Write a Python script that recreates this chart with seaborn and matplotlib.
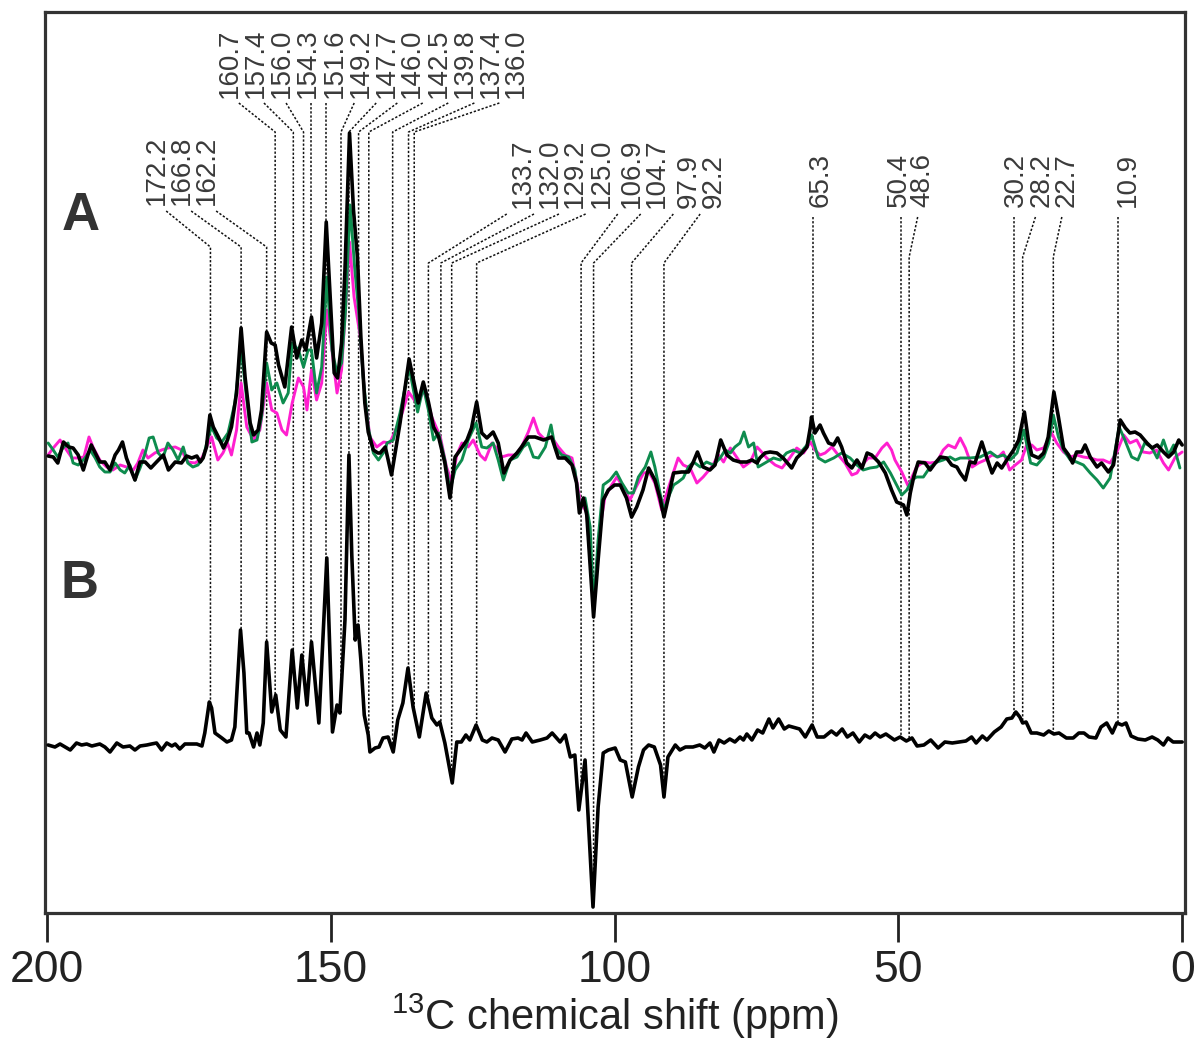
import numpy as np
import matplotlib
matplotlib.use("Agg")
import matplotlib.pyplot as plt
import seaborn as sns

## spectrum B (bottom trace, black), ppm / intensity (arb. units)
b_ppm = [199.8, 198.6, 197.7, 196.8, 195.9, 194.8, 193.9, 193.0, 192.1, 190.7, 189.8, 188.9, 187.7, 186.6,
         185.4, 184.5, 183.6, 182.4, 181.6, 180.7, 179.8, 178.9, 178.0, 177.4, 176.6, 175.7, 174.5, 173.6,
         172.7, 172.2, 171.4, 171.0, 170.4, 169.2, 168.3, 167.5, 166.9, 165.9, 165.3, 164.8, 164.4, 163.6,
         163.0, 162.5, 161.9, 161.3, 160.4, 159.7, 158.9, 157.9, 156.8, 155.9, 155.1, 154.2, 153.4, 152.1,
         150.7, 149.7, 148.9, 148.4, 147.5, 146.8, 146.3, 145.7, 145.2, 144.7, 144.1, 143.4, 143.1, 142.2,
         141.5, 140.8, 139.9, 139.0, 138.2, 137.3, 136.4, 135.5, 134.4, 133.2, 132.2, 131.3, 130.8, 129.9,
         128.6, 127.8, 127.0, 126.2, 125.5, 124.4, 123.3, 122.5, 121.6, 120.5, 119.3, 118.1, 117.0, 116.3,
         115.6, 114.5, 113.1, 111.9, 111.0, 109.6, 108.7, 107.8, 107.0, 106.3, 105.2, 103.8, 102.9, 102.0,
         101.1, 99.9, 99.0, 98.1, 96.9, 95.8, 94.9, 94.0, 93.0, 91.9, 91.3, 90.6, 89.3, 88.5, 87.5, 86.2,
         85.0, 84.1, 83.2, 82.5, 81.6, 80.7, 79.7, 78.8, 77.9, 77.3, 76.7, 75.8, 74.8, 73.9, 72.8, 72.1,
         71.1, 70.1, 69.3, 67.4, 66.4, 65.2, 64.3, 63.1, 61.8, 60.9, 59.9, 59.0, 58.0, 56.9, 55.9, 55.0,
         54.1, 53.2, 52.2, 50.7, 49.7, 48.6, 47.6, 46.7, 45.5, 44.3, 43.0, 41.8, 40.5, 39.3, 38.1, 37.1,
         36.3, 35.2, 34.4, 33.1, 31.9, 30.9, 30.0, 29.3, 28.6, 28.1, 27.5, 26.6, 25.6, 24.4, 23.5, 22.6,
         21.7, 20.4, 19.2, 18.2, 17.3, 16.4, 15.2, 14.3, 13.3, 12.3, 11.5, 10.6, 9.9, 9.0, 7.8, 6.5, 5.3,
         4.3, 3.3, 2.5, 1.6, 0.0]
b_int = [0, -2, 1, -2, -5, 2, 0, 1, -1, 1, -2, -7, 2, -2,
         -1, -5, -1, 0, 1, 2, -5, 2, -1, 1, -4, 1, 1, 1,
         -1, 12, 43, 37, 12, 7, 3, 5, 18, 115, 72, 12, 12, -2,
         12, 0, 22, 103, 33, 50, 15, 8, 95, 37, 90, 40, 103, 22,
         187, 13, 40, 32, 125, 290, 190, 105, 120, 85, 30, 10, -7, -3,
         -2, 7, 8, -7, 25, 42, 77, 38, 8, 52, 27, 20, 23, 2,
         -38, 3, 3, 10, 5, 20, 5, 3, 7, 5, -7, 6, 7, 5,
         12, 3, 5, 7, 12, 3, 10, -12, -10, -65, -15, -162, -62, -8,
         -5, -3, -15, -17, -52, -22, -5, 0, -2, -20, -52, -12, 0, -5, -2, -2,
         0, -3, 2, -7, 5, 2, 6, 3, 8, 5, 11, 5, 15, 12, 26, 17,
         26, 16, 19, 16, 8, 20, 8, 8, 14, 10, 16, 8, 12, 3, 10, 7,
         12, 8, 11, 5, 8, 4, 7, -1, 0, 5, -3, 3, 2, 3, 4, 8,
         2, 9, 5, 13, 18, 26, 27, 33, 28, 22, 23, 12, 12, 10, 14, 11,
         12, 7, 7, 12, 12, 8, 7, 18, 22, 12, 22, 20, 22, 9, 6, 5, 8,
         5, 0, 7, 3, 3]

## spectrum A, black trace
ak_ppm = [199.8, 198.9, 198.1, 197.1, 196.2, 195.4, 194.5, 193.6, 192.8, 192.2, 191.5, 190.7, 189.8, 188.9,
          188.0, 187.4, 186.7, 186.0, 185.2, 184.5, 183.6, 182.7, 181.7, 180.7, 179.5, 178.6, 177.4, 176.3,
          175.4, 174.5, 173.6, 173.0, 172.5, 171.9, 171.3, 170.7, 169.8, 168.9, 168.2, 167.5, 166.6, 165.8,
          165.1, 164.2, 163.6, 162.8, 162.2, 161.3, 160.5, 159.8, 159.2, 158.1, 156.9, 156.0, 155.1, 154.4,
          153.4, 152.5, 151.6, 150.8, 150.1, 149.4, 148.8, 148.1, 147.5, 146.7, 146.0, 145.3, 144.7, 144.0,
          143.4, 142.5, 141.7, 141.3, 140.4, 139.3, 137.8, 136.2, 134.6, 133.7, 132.8, 131.9, 131.0, 129.9,
          129.0, 128.1, 127.2, 126.0, 125.2, 124.3, 123.4, 122.5, 121.4, 120.5, 119.5, 118.4, 117.2, 116.4,
          115.2, 114.0, 112.5, 111.1, 109.9, 108.7, 107.5, 106.7, 106.2, 105.5, 104.9, 103.7, 102.9, 102.0,
          101.1, 100.0, 99.0, 97.9, 97.0, 96.1, 95.0, 94.0, 92.9, 92.0, 91.3, 90.5, 89.6, 88.2, 87.0, 86.2,
          85.4, 84.4, 83.2, 82.3, 81.3, 80.2, 79.1, 77.9, 76.7, 75.8, 74.9, 74.4, 73.5, 72.6, 71.4, 70.3,
          68.8, 67.9, 67.0, 66.1, 65.5, 65.3, 64.7, 63.8, 63.2, 62.3, 61.4, 60.7, 60.0, 59.1, 58.2, 57.3,
          56.4, 55.5, 54.7, 53.5, 52.3, 51.2, 50.3, 49.1, 48.5, 47.9, 47.3, 46.5, 45.3, 44.4, 43.5, 42.6,
          41.5, 40.6, 39.7, 39.1, 38.2, 37.4, 36.5, 35.3, 34.4, 33.5, 32.6, 31.8, 30.9, 29.7, 28.8, 27.8,
          27.1, 26.5, 25.3, 24.4, 23.6, 22.6, 21.8, 20.9, 20.0, 19.3, 18.6, 17.7, 17.1, 16.2, 15.0, 14.2,
          13.0, 12.1, 10.9, 10.0, 9.2, 8.3, 7.4, 6.2, 5.3, 4.4, 3.3, 2.4, 1.5, 0.6, 0.0]
ak_int = [2, 1, -5, 16, 11, 10, 3, -12, 3, 13, 5, -4, -4, -12,
          3, 8, 16, 0, -12, -22, -4, -4, -10, -4, 3, -12, -4, -5,
          2, 0, 2, -4, 0, 11, 43, 31, 21, 10, 18, 31, 65, 130,
          81, 35, 23, 28, 48, 126, 115, 113, 93, 71, 131, 100, 118, 108,
          141, 100, 135, 236, 161, 85, 80, 115, 188, 325, 248, 201, 121, 55,
          26, 8, 5, 5, 11, -17, 35, 99, 55, 76, 56, 31, 21, -5,
          -40, 1, 8, 18, 30, 56, 25, 20, 26, 15, -15, -2, 5, 11,
          21, 21, 18, 21, 0, 0, -7, -25, -55, -40, -57, -159, -102, -42,
          -32, -27, -27, -40, -59, -49, -32, -10, -22, -40, -59, -39, -15, -14, -14, -5,
          6, -9, -12, -7, 18, 3, -2, -4, -4, -2, -5, 0, 5, 6, 5, 0,
          -10, 0, 5, 11, 31, 41, 25, 33, 25, 15, 13, 20, 11, -5, -10, -2,
          -10, 5, 3, -4, -15, -32, -44, -47, -57, -35, -19, -4, -5, -12, -5, 1,
          0, -7, -9, -15, -22, -4, -5, 16, 0, -15, -5, -10, -2, 8, 18, 46,
          18, 3, 0, 5, 21, 66, 41, 10, 3, -5, 6, 6, 13, 1, -9, -5,
          -14, -7, 38, 30, 25, 26, 23, 15, 10, 13, 6, 1, 6, 18, 13]

## spectrum A, magenta trace
am_ppm = [199.8, 198.9, 197.7, 196.8, 195.6, 194.5, 193.5, 192.6, 191.9, 190.7, 189.5, 188.4, 187.1, 186.0,
          184.8, 184.0, 183.1, 182.2, 181.0, 179.8, 178.7, 177.4, 176.3, 175.2, 173.9, 172.7, 171.9, 171.0,
          169.9, 169.0, 168.2, 167.5, 166.6, 165.8, 164.8, 163.6, 162.5, 161.3, 160.4, 159.5, 158.6, 157.8,
          156.8, 155.7, 154.8, 154.2, 153.4, 152.5, 151.6, 150.7, 149.8, 148.9, 148.1, 147.5, 146.7, 145.9,
          144.8, 144.0, 143.1, 141.9, 140.7, 139.6, 137.8, 136.3, 134.9, 133.4, 132.2, 130.7, 129.6, 128.7,
          127.8, 126.9, 125.8, 124.9, 123.7, 122.8, 121.6, 120.8, 119.9, 118.7, 117.5, 116.4, 115.2, 114.3,
          113.4, 112.2, 111.1, 109.9, 108.7, 107.5, 106.7, 106.1, 104.9, 103.7, 102.7, 101.7, 100.5, 99.6,
          98.5, 97.3, 96.2, 94.9, 93.9, 92.9, 91.7, 90.8, 89.9, 88.8, 87.9, 86.7, 85.5, 84.4, 82.9, 81.7,
          80.8, 79.6, 78.5, 77.3, 76.1, 74.9, 74.4, 73.2, 71.7, 70.5, 69.4, 67.9, 66.7, 65.5, 64.7, 63.8,
          62.9, 61.7, 60.6, 59.4, 58.2, 57.3, 56.4, 55.3, 54.1, 52.9, 52.0, 51.2, 50.6, 49.4, 48.2, 47.6,
          46.8, 45.6, 44.4, 43.2, 42.1, 41.2, 40.0, 39.1, 38.2, 37.0, 35.9, 34.7, 33.5, 32.4, 31.5, 30.4,
          29.4, 28.3, 27.4, 26.5, 25.6, 24.4, 23.0, 22.1, 20.9, 19.7, 18.6, 17.4, 16.2, 15.0, 13.9, 12.7,
          11.5, 10.3, 9.2, 8.0, 6.9, 5.7, 4.5, 3.3, 2.4, 1.2, 0.0]
am_int = [3, 10, 18, 10, 0, 0, 1, 21, 11, -2, -9, -12, -7, -9,
          -12, -5, 8, 0, 5, 8, 10, 11, 8, -4, -5, 0, 11, 21,
          -2, 5, 15, 3, 28, 75, 31, 18, 28, 75, 48, 45, 28, 23,
          55, 80, 71, 48, 88, 58, 75, 148, 108, 65, 88, 141, 216, 161,
          121, 61, 21, 11, 16, 15, 38, 66, 55, 68, 41, 21, -9, -24,
          3, 15, 11, 18, 3, -2, 15, 10, 1, 3, 3, 11, 26, 40,
          25, 18, 21, 11, 3, 0, -22, -42, -55, -149, -75, -39, -27, -19,
          -29, -42, -29, -15, -14, -25, -52, -35, -19, 0, -7, -10, -25, -19, -9, 3,
          -4, 10, 1, -9, -4, 11, 8, 0, -7, -10, -2, 10, 5, 16, 8, 3,
          5, 11, 3, -5, -17, -15, -7, 0, 0, 10, 15, 8, -2, -14, -29, -19,
          -9, -4, -5, -4, 8, 13, 10, 20, 10, -9, -5, -2, 3, 1, 6, -12,
          -7, -2, 13, 13, 8, 10, 25, 15, 6, 1, 3, 1, 0, -2, -2, -5,
          6, 23, 15, 18, 6, 5, 8, -5, -12, 1, 6]

## spectrum A, green trace
ag_ppm = [199.8, 198.9, 198.1, 197.2, 196.3, 195.4, 194.5, 193.3, 192.4, 191.5, 190.7, 189.8, 188.9, 188.0,
          187.1, 186.3, 185.4, 184.5, 183.6, 182.7, 182.0, 181.3, 180.4, 179.6, 178.7, 177.8, 176.9, 176.0,
          175.2, 174.3, 173.4, 172.5, 171.6, 171.0, 170.1, 169.2, 168.1, 166.9, 165.8, 164.8, 163.9, 163.0,
          162.2, 161.3, 160.4, 159.5, 158.4, 157.5, 156.8, 155.7, 154.8, 154.0, 153.4, 152.5, 151.6, 150.7,
          149.8, 148.9, 148.1, 147.4, 146.6, 145.8, 145.1, 144.3, 143.4, 142.5, 141.6, 140.4, 140.1, 139.0,
          137.8, 136.2, 134.7, 133.7, 132.8, 131.9, 131.0, 129.9, 129.0, 128.1, 126.9, 125.8, 124.4, 123.4,
          122.5, 121.4, 120.5, 119.6, 118.4, 117.2, 116.1, 115.2, 114.3, 113.4, 112.2, 111.2, 110.5, 109.3,
          108.1, 107.0, 106.1, 105.2, 104.3, 103.7, 102.9, 102.0, 100.8, 99.7, 98.7, 97.6, 96.7, 95.8, 94.6,
          93.6, 92.9, 92.0, 91.3, 90.5, 89.6, 88.8, 87.9, 87.0, 86.1, 84.9, 83.8, 82.6, 81.4, 80.5, 79.6,
          78.8, 77.9, 77.2, 76.4, 75.5, 74.7, 73.2, 72.0, 70.8, 69.7, 68.5, 67.3, 66.1, 65.3, 64.1, 62.9,
          61.4, 60.0, 58.5, 57.3, 56.2, 55.0, 53.8, 52.6, 51.4, 50.3, 49.4, 48.5, 47.6, 46.8, 45.6, 44.4,
          43.2, 42.1, 40.9, 40.0, 39.1, 37.4, 35.6, 33.8, 32.6, 31.5, 30.3, 29.1, 27.9, 26.7, 25.6, 24.4,
          23.5, 22.7, 21.8, 20.9, 19.7, 18.6, 17.4, 16.2, 15.0, 13.9, 12.7, 11.8, 11.1, 10.1, 8.9, 7.8,
          6.6, 5.4, 4.4, 3.3, 2.4, 1.5, 0.4]
ag_int = [15, 8, 1, 10, 15, -5, -7, 0, 8, 0, -9, -14, -14, -5,
          -12, -15, -7, -22, -10, 5, 20, 21, 5, 0, 15, 8, -2, 11,
          -5, -9, -7, 0, 21, 31, 20, 16, 25, 55, 110, 58, 16, 18,
          41, 95, 68, 75, 55, 65, 115, 108, 91, 108, 108, 65, 91, 181,
          108, 85, 95, 148, 253, 191, 148, 81, 31, 5, -2, 8, 15, 18,
          45, 91, 46, 71, 48, 18, 25, -2, -32, -12, -2, 18, 35, 11,
          10, 15, -2, -22, -2, 1, 11, 15, 1, 0, 11, 33, 11, 3,
          1, -12, -49, -40, -69, -149, -82, -27, -22, -14, -25, -35, -35, -19, -9,
          6, -9, -35, -52, -39, -27, -24, -20, -9, -4, -9, -4, -7, 0, 8, 5,
          11, 15, 26, 11, 15, -9, -4, 0, -2, 5, 8, 5, 13, 23, 0, -4,
          0, 5, 0, -7, -12, -10, -9, -4, -15, -27, -37, -32, -22, -19, -19, -9,
          -4, -2, 1, -2, 0, 0, 1, 6, 1, 3, -2, 5, 28, -5, -7, 1,
          15, 43, 21, 8, -2, -4, -7, -15, -22, -30, -20, 8, 31, 18, 1, -2,
          15, 11, 0, 18, 3, 13, -10]

## peak assignments: label text, where its dotted line drops (ppm), label centre (ppm), label group
peak_labels = ["172.2", "166.8", "162.2",
               "160.7", "157.4", "156.0", "154.3", "151.6", "149.2", "147.7", "146.0", "142.5", "139.8",
               "137.4", "136.0",
               "133.7", "132.0", "129.2", "125.0", "106.9", "104.7", "97.9", "92.2",
               "65.3", "50.4", "48.6", "30.2", "28.2", "22.7", "10.9"]
line_ppm = [171.2, 165.8, 161.3,
            159.8, 156.6, 154.8, 153.4, 150.8, 148.2, 146.8, 145.1, 143.3, 139.1, 136.3, 135.3,
            132.8, 130.6, 128.7, 124.3, 105.9, 103.7, 97.0, 91.3,
            65.1, 49.5, 48.1, 29.7, 28.1, 22.7, 11.3]
text_ppm = [181.0, 176.6, 172.2,
            168.2, 163.5, 158.9, 154.4, 149.7, 145.1, 140.4, 136.0, 131.3, 126.8, 122.2, 117.8,
            116.5, 111.7, 107.3, 102.6, 97.3, 92.9, 87.2, 82.8,
            64.0, 50.3, 46.1, 29.6, 25.1, 20.7, 9.9]
group = [0] * 3 + [1] * 12 + [2] * 8 + [3] * 7

# layout per group: text bottom, leader start, leader kink (y in axes units = 913 - pixel row)
text_y = [708, 815, 705, 706]
start_y = [702, 810, 699, 696]
kink_y = [666, 781, 650, 656]

off_a, off_b = 455, 168

sns.set_style("white")
plt.rcParams["font.family"] = ["Liberation Sans", "DejaVu Sans"]
narrow = ["Liberation Sans Narrow", "Liberation Sans", "DejaVu Sans"]

fig = plt.figure(figsize=(11.99, 10.45), dpi=100)
ax = fig.add_axes([45 / 1199, 132 / 1045, 1140 / 1199, 901 / 1045])

traces = [(am_ppm, am_int, off_a, "#ff1fcf", 2.1),
          (ag_ppm, ag_int, off_a, "#0e8c4e", 2.1),
          (ak_ppm, ak_int, off_a, "black", 2.6),
          (b_ppm, b_int, off_b, "black", 2.6)]
for ppm, inten, off, col, lw in traces:
    sns.lineplot(x=np.array(ppm), y=np.array(inten) + off, sort=False, estimator=None,
                 color=col, linewidth=lw, ax=ax, zorder=3,
                 solid_joinstyle="round", solid_capstyle="round")

# B trace value under each dotted line, so the line stops on the spectrum
b_x = np.array(b_ppm)[::-1]
b_y = np.array(b_int)[::-1] + off_b
for lab, lp, tp, g in zip(peak_labels, line_ppm, text_ppm, group):
    ax.text(tp - 0.35, text_y[g], lab, rotation=90, ha="center", va="bottom",
            fontsize=20, color="#3a3a3a")
    end = np.interp(lp, b_x, b_y)
    if abs(lp - tp) < 1.5:
        xs, ys = [lp, lp], [start_y[g], end]
    else:
        sx = tp + np.clip(0.25 * (lp - tp), -2.0, 2.5)
        xs, ys = [sx, lp, lp], [start_y[g], kink_y[g], end]
    ax.plot(xs, ys, color="#111111", lw=1.1, ls=(0, (1.5, 1.2)), zorder=1)

ax.text(194.0, 697, "A", fontsize=38, fontweight="bold", color="#333333", ha="center", va="center")
ax.text(194.2, 329, "B", fontsize=38, fontweight="bold", color="#333333", ha="center", va="center")

ax.set_xlim(200.35, -0.5)
ax.set_ylim(0, 901)
ax.set_yticks([])
ax.set_xticks([200, 150, 100, 50, 0])
ax.set_xticklabels(["200", "150", "100", "50", "0"])
ax.tick_params(axis="x", direction="out", length=21, width=2, pad=6, labelsize=32,
               colors="#222222", bottom=True)
for t in ax.get_xticklabels():
    t.set_family(narrow)
ax.set_xlabel(r"$\mathregular{^{13}}$C chemical shift (ppm)", fontsize=30, family=narrow,
              color="#222222", labelpad=0)
for s in ax.spines.values():
    s.set_visible(True)
    s.set_color("#333333")
    s.set_linewidth(2.3)

fig.savefig("out.png", dpi=100)
